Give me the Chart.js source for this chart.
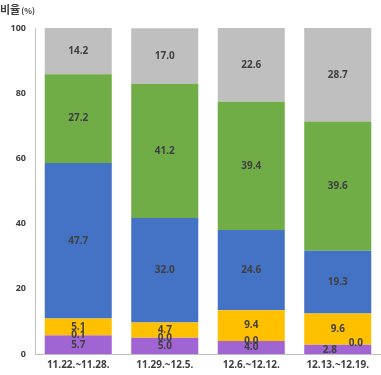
<!DOCTYPE html>
<html><head><meta charset="utf-8">
<script src="https://cdn.jsdelivr.net/npm/chart.js@4/dist/chart.umd.min.js"></script>
<style>html,body{margin:0;padding:0;background:#fff;}#wrap{position:relative;width:381px;height:375px;}</style>
</head><body>
<div id="wrap"><canvas id="c" width="381" height="375"></canvas></div>
<script>
const categories = ['11.22.~11.28.', '11.29.~12.5.', '12.6.~12.12.', '12.13.~12.19.'];
const seriesA = [5.7, 5.0, 4.0, 2.8];
const seriesB = [0.1, 0.0, 0.0, 0.0];
const seriesC = [5.1, 4.7, 9.4, 9.6];
const seriesD = [47.7, 32.0, 24.6, 19.3];
const seriesE = [27.2, 41.2, 39.4, 39.6];
const seriesF = [14.2, 17.0, 22.6, 28.7];
const yTicks = [0, 20, 40, 60, 80, 100];
const yTitle = '비율';
const yUnit = '(%)';

const colors = ['#A065D2', '#ED7D31', '#FFC000', '#4472C4', '#70AD47', '#BFBFBF'];
const allSeries = [seriesA, seriesB, seriesC, seriesD, seriesE, seriesF];
// label offsets (px) per dataset/category, used to avoid overlap
const labelDx = [[0,0,0,-8],[0,0,0,18],[0,0,0,0],[0,0,0,0],[0,0,0,0],[0,0,0,0]];
const labelDy = [[0,0,0,1],[0,0,0,-2],[0,0,0,0],[0,0,0,0],[0,0,0,0],[0,0,0,0]];

const labelPlugin = {
  id: 'labels',
  afterDatasetsDraw(chart) {
    const ctx = chart.ctx;
    ctx.save();
    ctx.font = 'bold 10px "Noto Sans", "DejaVu Sans", sans-serif';
    ctx.fillStyle = '#404040';
    ctx.textAlign = 'center';
    ctx.textBaseline = 'middle';
    chart.data.datasets.forEach((ds, di) => {
      const meta = chart.getDatasetMeta(di);
      meta.data.forEach((bar, i) => {
        const v = ds.data[i];
        const y = (bar.y + bar.base) / 2;
        ctx.fillText(v.toFixed(1), bar.x + labelDx[di][i], y + labelDy[di][i]);
      });
    });
    // axis title
    ctx.textAlign = 'left';
    ctx.textBaseline = 'alphabetic';
    ctx.fillStyle = '#404040';
    ctx.font = 'bold 11px "Noto Sans CJK KR", sans-serif';
    ctx.fillText(yTitle, 0, 14);
    const w = ctx.measureText(yTitle).width;
    ctx.font = 'bold 8px "Noto Sans CJK KR", sans-serif';
    ctx.fillText(yUnit, w + 1, 14);
    ctx.restore();
  }
};

new Chart(document.getElementById('c'), {
  type: 'bar',
  data: {
    labels: categories,
    datasets: allSeries.map((s, i) => ({
      data: s,
      backgroundColor: colors[i],
      borderWidth: 0,
      categoryPercentage: 1.0,
      barPercentage: 0.775
    }))
  },
  options: {
    responsive: false,
    animation: false,
    layout: { padding: { top: 28, right: 0, left: 0, bottom: 0 } },
    plugins: { legend: { display: false }, tooltip: { enabled: false } },
    scales: {
      x: {
        stacked: true,
        grid: { display: false, drawTicks: false },
        border: { display: true, color: '#BFBFBF' },
        ticks: { color: '#404040', font: { size: 10, weight: 'bold', family: '"Noto Sans", sans-serif' }, padding: 5 },
        afterFit(s) { s.height = 21; }
      },
      y: {
        stacked: true,
        min: 0, max: 100,
        afterBuildTicks(s) { s.ticks = yTicks.map(v => ({ value: v })); },
        grid: { display: false, drawTicks: false },
        border: { display: true, color: '#BFBFBF' },
        ticks: { color: '#404040', font: { size: 9, weight: 'bold', family: '"Noto Sans", sans-serif' }, padding: 9 },
        afterFit(s) { s.width = 35; }
      }
    }
  },
  plugins: [labelPlugin]
});
</script>
</body></html>
